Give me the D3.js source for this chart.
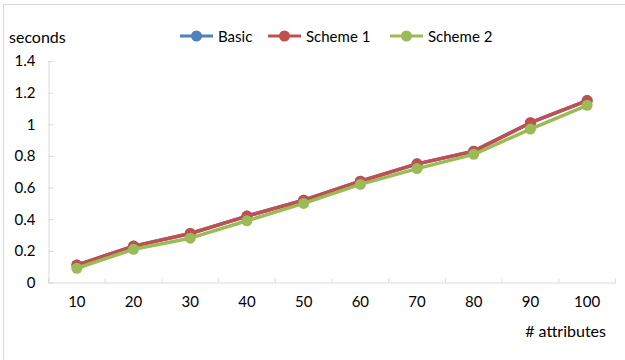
<!DOCTYPE html>
<html><head><meta charset="utf-8">
<script src="https://cdn.jsdelivr.net/npm/d3@7"></script>
<style>body{margin:0;background:#fff}svg{display:block}</style>
</head><body>
<svg id="c" width="625" height="360"></svg>
<script>
const categories = [10,20,30,40,50,60,70,80,90,100];
const basic   = [0.11,0.23,0.31,0.42,0.52,0.64,0.75,0.83,1.01,1.15];
const scheme1 = [0.11,0.23,0.31,0.42,0.52,0.64,0.75,0.83,1.01,1.15];
const scheme2 = [0.09,0.21,0.28,0.39,0.50,0.62,0.72,0.81,0.97,1.12];
const yTicks = [0,0.2,0.4,0.6,0.8,1,1.2,1.4];
const seriesNames = ["Basic","Scheme 1","Scheme 2"];
const colors = ["#4F81BD","#C0504D","#9BBB59"];
const series = [basic, scheme1, scheme2];

const svg = d3.select("#c");
const font = "Lato, 'Open Sans', sans-serif";
svg.append("rect").attr("x",3.5).attr("y",4.5).attr("width",700).attr("height",400)
  .attr("fill","#fff").attr("stroke","#d9d9d9");

const L=48.5, R=615.5, T=61, B=282.5;
const x = d3.scaleBand().domain(categories).range([L,R]);
const y = d3.scaleLinear().domain([0,1.4]).range([B,T]);

// y axis
const ya = svg.append("g").attr("transform",`translate(${L},0)`)
  .call(d3.axisLeft(y).tickValues(yTicks).tickFormat(d=>d3.format("")(+d.toFixed(1))).tickSizeInner(-5).tickSizeOuter(0).tickPadding(13));
ya.select(".domain").attr("stroke","#d9d9d9");
ya.selectAll(".tick line").attr("stroke","#d9d9d9");
ya.selectAll("text").attr("font-family",font).attr("font-size",15).attr("fill","#000");

// x axis
const xa = svg.append("g").attr("transform",`translate(0,${B})`)
  .call(d3.axisBottom(x).tickSize(0).tickPadding(14));
xa.select(".domain").attr("stroke","#d9d9d9");
xa.selectAll("text").attr("font-family",font).attr("font-size",15).attr("fill","#000");
// category boundary ticks
const bounds = categories.map(c=>x(c)).concat([R]);
svg.append("g").selectAll("line").data(bounds).join("line")
  .attr("x1",d=>d).attr("x2",d=>d).attr("y1",B).attr("y2",B-4)
  .attr("stroke","#d9d9d9");

// series
const line = d3.line().x((d,i)=>x(categories[i])+x.bandwidth()/2).y(d=>y(d));
series.forEach((s,k)=>{
  const g = svg.append("g");
  g.append("path").datum(s).attr("d",line).attr("fill","none")
    .attr("stroke",colors[k]).attr("stroke-width",3.5).attr("stroke-linejoin","round");
  g.selectAll("circle").data(s).join("circle")
    .attr("cx",(d,i)=>x(categories[i])+x.bandwidth()/2).attr("cy",d=>y(d))
    .attr("r",5.5).attr("fill",colors[k]);
});

// titles
svg.append("text").attr("x",9).attr("y",43).text("seconds")
  .attr("font-family",font).attr("font-size",16).attr("fill","#000");
svg.append("text").attr("x",606).attr("y",337).attr("text-anchor","end").text("# attributes")
  .attr("font-family",font).attr("font-size",16).attr("fill","#000");

// legend
const legX = [180,268,390];
seriesNames.forEach((n,k)=>{
  const g = svg.append("g").attr("transform",`translate(${legX[k]},36)`);
  g.append("line").attr("x1",0).attr("x2",33).attr("stroke",colors[k]).attr("stroke-width",3);
  g.append("circle").attr("cx",16.5).attr("r",5.5).attr("fill",colors[k]);
  g.append("text").attr("x",38).attr("y",5.5).text(n)
    .attr("font-family",font).attr("font-size",15).attr("fill","#000");
});
</script>
</body></html>
